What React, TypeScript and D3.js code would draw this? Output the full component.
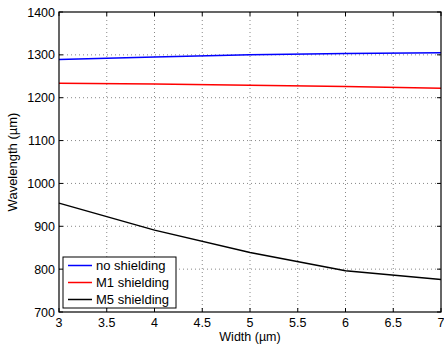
import React from "react";
import * as d3 from "d3";

const widths = [3, 4, 5, 6, 7];
const noShielding = [1289, 1295, 1300, 1303, 1305];
const m1Shielding = [1234, 1232, 1229, 1226, 1222];
const m5Shielding = [954, 891, 839, 796, 776];
const xTicks = [3, 3.5, 4, 4.5, 5, 5.5, 6, 6.5, 7];
const yTicks = [700, 800, 900, 1000, 1100, 1200, 1300, 1400];
const seriesNames = ["no shielding", "M1 shielding", "M5 shielding"];
const seriesColors = ["#0000ff", "#ff0000", "#000000"];

export default function App() {
  const W = 444, H = 344;
  const L = 59, R = 441, T = 12, B = 312;
  const x = d3.scaleLinear().domain([3, 7]).range([L, R]);
  const y = d3.scaleLinear().domain([700, 1400]).range([B, T]);
  const line = d3.line<number>().x((_, i) => x(widths[i])).y((d) => y(d));
  const series = [noShielding, m1Shielding, m5Shielding];
  const font = "'Liberation Sans', Arial, sans-serif";
  return (
    <svg width={W} height={H} style={{ position: "absolute", left: 0, top: 0, background: "#fff" }} fontFamily={font}>
      <rect x={0} y={0} width={W} height={H} fill="#fff" />
      {xTicks.map((t) => (
        <g key={"x" + t}>
          {t > 3 && t < 7 && (
            <line x1={x(t)} x2={x(t)} y1={T} y2={B} stroke="#888" strokeWidth={1} strokeDasharray="1,3" />
          )}
          <line x1={x(t)} x2={x(t)} y1={B} y2={B - 4} stroke="#000" />
          <line x1={x(t)} x2={x(t)} y1={T} y2={T + 4} stroke="#000" />
          <text x={x(t)} y={B + 15} fontSize={12.5} textAnchor="middle">{t}</text>
        </g>
      ))}
      {yTicks.map((t) => (
        <g key={"y" + t}>
          {t > 700 && t < 1400 && (
            <line x1={L} x2={R} y1={y(t)} y2={y(t)} stroke="#888" strokeWidth={1} strokeDasharray="1,3" />
          )}
          <line x1={L} x2={L + 4} y1={y(t)} y2={y(t)} stroke="#000" />
          <line x1={R} x2={R - 4} y1={y(t)} y2={y(t)} stroke="#000" />
          <text x={L - 4} y={y(t) + 4.5} fontSize={12.5} textAnchor="end">{t}</text>
        </g>
      ))}
      {series.map((s, i) => (
        <path key={i} d={line(s) || ""} fill="none" stroke={seriesColors[i]} strokeWidth={1.5} />
      ))}
      <rect x={L} y={T} width={R - L} height={B - T} fill="none" stroke="#000" strokeWidth={1.2} />
      <text x={(L + R) / 2} y={341} fontSize={12.5} textAnchor="middle">Width (µm)</text>
      <text transform={`translate(17,${(T + B) / 2}) rotate(-90)`} fontSize={13} textAnchor="middle">Wavelength (µm)</text>
      <g>
        <rect x={63} y={257} width={113} height={51} fill="#fff" stroke="#000" strokeWidth={1} />
        {seriesNames.map((n, i) => (
          <g key={n}>
            <line x1={68} x2={92} y1={265.5 + i * 17} y2={265.5 + i * 17} stroke={seriesColors[i]} strokeWidth={1.5} />
            <text x={96} y={270 + i * 17} fontSize={13}>{n}</text>
          </g>
        ))}
      </g>
    </svg>
  );
}
